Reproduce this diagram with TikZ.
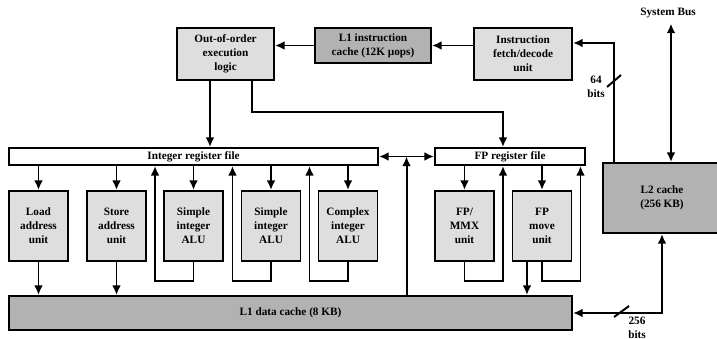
\documentclass[tikz,border=0pt]{standalone}
\usepackage{fontspec}
\setmainfont{Liberation Serif}
\usetikzlibrary{arrows.meta,calc}
\definecolor{unitgray}{gray}{0.87}
\definecolor{cachegray}{gray}{0.70}

\begin{document}
\begin{tikzpicture}[x=0.025cm,y=-0.025cm,
    line width=1.4pt, >={Latex[length=2.4mm,width=2.2mm]},
    font=\fontsize{8}{10}\selectfont\bfseries,
    unitbox/.style={draw,fill=unitgray,align=center,minimum width=1.475cm,minimum height=1.75cm,inner sep=1pt},
    cachebox/.style={draw,fill=cachegray,align=center,inner sep=1pt},
    regbox/.style={draw,fill=white,minimum height=0.425cm,inner sep=0pt}]
    \useasboundingbox (0,0) rectangle (717,339);

    % front end
    \node[unitbox,minimum width=2.425cm,minimum height=1.3cm] (ooo) at (225.5,54) {Out-of-order\\execution\\logic};
    \node[cachebox,minimum width=2.9cm,minimum height=0.875cm] (l1i) at (373,45.5) {L1 instruction\\cache (12K µops)};
    \node[unitbox,minimum width=2.45cm,minimum height=1.3cm] (ifd) at (523,54) {Instruction\\fetch/decode\\unit};
    \draw[->] (ifd.west |- l1i.east) -- (l1i.east);
    \draw[->] (l1i.west) -- (ooo.east |- l1i.west);

    % register files
    \node[regbox,minimum width=9.225cm] (irf) at (193.5,156.5) {Integer register file};
    \node[regbox,minimum width=3.75cm] (fprf) at (510,156.5) {FP register file};
    \draw[->] ([xshift=-0.3875cm]ooo.south) -- ([xshift=-0.3875cm]ooo.south |- irf.north);
    \draw[->] ([xshift=0.6625cm]ooo.south) |- ($(fprf.north)+(-7,-35)$) -- ([xshift=-0.175cm]fprf.north);

    % execution units
    \node[unitbox] (load) at (38.5,226) {Load\\address\\unit};
    \node[unitbox] (store) at (116.5,226) {Store\\address\\unit};
    \node[unitbox] (alua) at (193.5,226) {Simple\\integer\\ALU};
    \node[unitbox] (alub) at (271,226) {Simple\\integer\\ALU};
    \node[unitbox] (aluc) at (348,226) {Complex\\integer\\ALU};
    \node[unitbox] (fpmmx) at (464.5,226) {FP/\\MMX\\unit};
    \node[unitbox] (fpmove) at (542,226) {FP\\move\\unit};

    \foreach \u in {load,store,alua,alub,aluc}
        \draw[->] (\u.north |- irf.south) -- (\u.north);
    \foreach \u in {fpmmx,fpmove}
        \draw[->] (\u.north |- fprf.south) -- (\u.north);
    % results written back
    \foreach \u in {alua,alub,aluc}
        \draw[->] (\u.south) -- ++(0,19) -| ([xshift=-0.2cm]\u.west |- irf.south);
    \foreach \u in {fpmmx,fpmove}
        \draw[->] (\u.south) -- ++(0,19) -| ([xshift=0.2cm]\u.east |- fprf.south);

    % L1 data cache
    \node[cachebox,minimum width=14.075cm,minimum height=0.85cm] (l1d) at (290.5,313) {L1 data cache (8 KB)};
    \foreach \u in {load,store}
        \draw[->] (\u.south) -- (\u.south |- l1d.north);
    \draw[->] ([xshift=-0.375cm]fpmove.south) -- ([xshift=-0.375cm]fpmove.south |- l1d.north);
    \coordinate (mid) at ($(irf.east)!0.5!(fprf.west)$);
    \draw[<->] (irf.east) -- (fprf.west);
    \draw[->] (mid |- l1d.north) -- (mid);

    % L2 cache and system bus
    \node[cachebox,minimum width=2.95cm,minimum height=1.75cm] (l2) at (662,198) {L2 cache\\(256 KB)};
    \node (bus) at (668,13) {System Bus};
    \draw[<->] ([xshift=0.225cm]l2.north) -- ([xshift=0.225cm]l2.north |- bus.south);
    \draw[->] ([xshift=0.3cm]l2.north west) |- ([yshift=0.275cm]ifd.east);
    \draw ($(l2.north west)+(5,-75)$) -- ++(14,-12);
    \node[align=center] (w64) at (596,86.5) {64\\bits};
    \draw[<->] (l1d.east) -| (l2.south);
    \draw ($(l1d.east)+(41,4)$) -- ++(15,-11);
    \node[align=center] (w256) at (637,327.5) {256\\bits};
\end{tikzpicture}
\end{document}
